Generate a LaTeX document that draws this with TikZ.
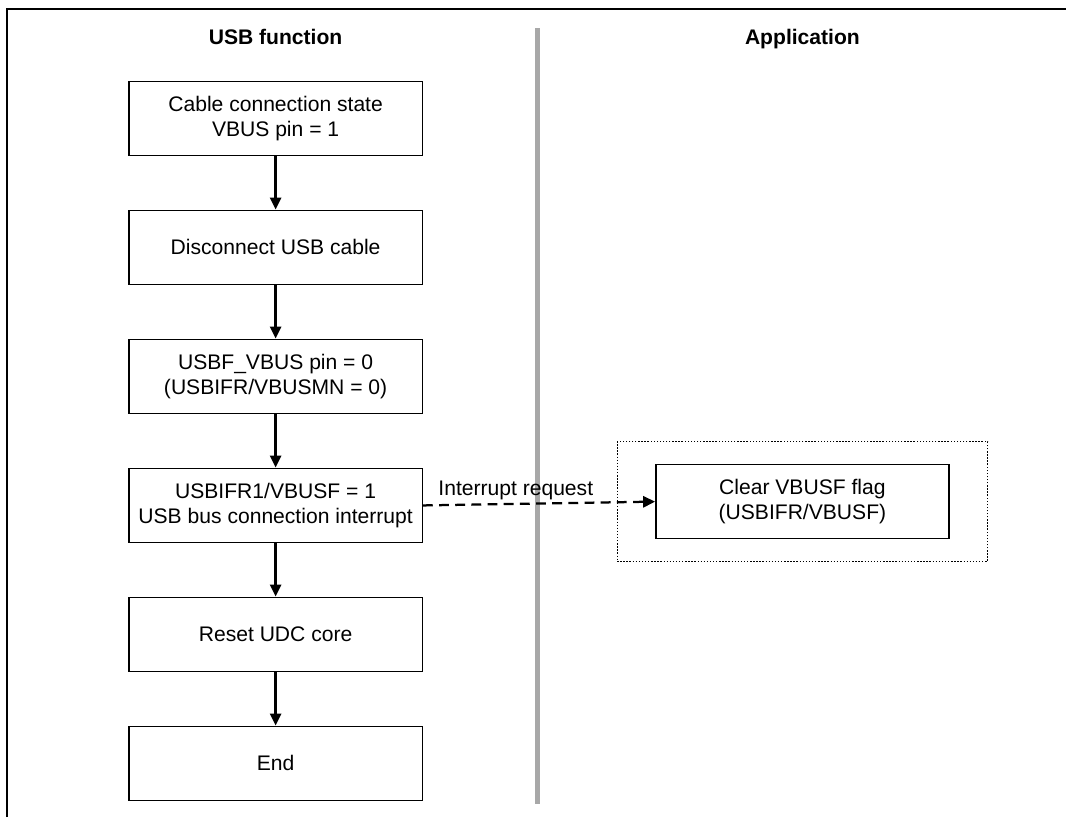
\documentclass[tikz,border=0pt]{standalone}
\usepackage{fontspec}
\setmainfont{Liberation Sans}
\usepackage{tikz}
\usetikzlibrary{arrows.meta,positioning,fit}
\usepackage{xcolor}
\definecolor{lanegray}{HTML}{A8A8A8}

\begin{document}
\begin{tikzpicture}[
    font=\fontsize{15}{18}\selectfont,
    stepbox/.style={draw=black,line width=1pt,align=center,minimum width=7.33cm,minimum height=1.86cm,inner sep=0pt},
    head/.style={font=\fontsize{15}{18}\selectfont\bfseries,anchor=base},
    arrow/.style={-{Triangle[length=3mm,width=2.8mm]},line width=1.6pt},
    darrow/.style={-{Triangle[length=3mm,width=2.8mm]},line width=1.6pt,dash pattern=on 7pt off 4.5pt},
    note/.style={font=\fontsize{15}{18}\selectfont,inner sep=2pt},
    node distance=1.33cm
  ]
    \useasboundingbox (0,0) rectangle (26.65,-20.425);
    % frame and lane divider
    \draw[line width=1.5pt] (0.175,-20.425) -- (0.175,-0.225) -- (26.65,-0.225);
    \draw[lanegray,line width=3.6pt] (13.43,-0.7) -- (13.43,-20.1);

    \node[head] (hfunc) at (6.89,-1.12) {USB function};
    \node[head] (happ) at (20.06,-1.12) {Application};

    % USB function flow
    \node[stepbox] (cable) at (6.89,-2.96) {Cable connection state\\VBUS pin = 1};
    \node[stepbox,below=of cable] (disc) {Disconnect USB cable};
    \node[stepbox,below=of disc] (vbus) {USBF\_VBUS pin = 0\\(USBIFR/VBUSMN = 0)};
    \node[stepbox,below=of vbus] (intr) {USBIFR1/VBUSF = 1\\USB bus connection interrupt};
    \node[stepbox,below=of intr] (reset) {Reset UDC core};
    \node[stepbox,below=of reset] (done) {End};

    % application side
    \node[stepbox,minimum height=1.85cm] (clear) at (20.06,-12.54) {Clear VBUSF flag\\(USBIFR/VBUSF)};
    \node[draw,line width=0.8pt,dash pattern=on 1pt off 1.2pt,inner xsep=0.95cm,inner ysep=0.55cm,fit=(clear)] (handler) {};

    \draw[arrow] (cable) -- (disc);
    \draw[arrow] (disc) -- (vbus);
    \draw[arrow] (vbus) -- (intr);
    \draw[arrow] (intr) -- (reset);
    \draw[arrow] (reset) -- (done);
    \draw[darrow] (intr.east) -- node[note,above,pos=0.4]{Interrupt request} (clear.west);
  \end{tikzpicture}
\end{document}
